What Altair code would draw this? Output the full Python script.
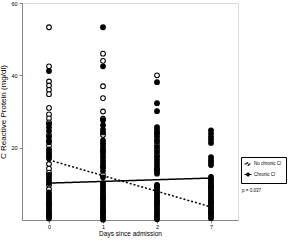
import altair as alt
import pandas as pd

days = ["0", "1", "2", "7"]
groups = ["No chronic CI", "Chronic CI"]

# CRP values (mg/dl)
open_day0 = [53.3, 42.5, 38.3, 37.2, 36.0, 34.8, 31.0, 29.2, 28.1, 27.0, 23.5, 20.5, 15.5, 14.2, 13.1, 9.6, 8.5, 4.5, 1.5]
filled_day0 = [41.2, 26.5, 25.6, 24.6, 23.0, 22.0, 21.5, 19.5, 18.8, 18.2, 17.6, 17.0, 12.5, 11.8, 11.0,
               10.2, 7.6, 7.0, 6.4, 5.8, 5.2, 4.6, 4.0, 3.4, 2.8, 2.2, 1.6, 1.0, 0.4]
open_day1 = [46.0, 44.0, 37.0, 33.7, 30.0, 28.0, 23.5, 19.0, 14.5, 12.5, 6.0, 2.5]
filled_day1 = [53.3, 42.5, 27.6, 26.2, 25.0, 24.2, 22.0, 21.2, 20.4, 19.6, 18.8, 18.0, 17.2, 16.4, 15.6,
               14.8, 13.6, 11.8, 10.2, 9.6, 9.0, 8.4, 7.8, 7.2, 6.6, 6.0, 5.4, 4.8, 4.2, 3.6, 3.0,
               2.4, 1.8, 1.2, 0.6, 0.1]
open_day2 = [40.0, 24.2, 22.5, 21.0, 19.5, 18.0, 14.0, 9.5, 5.0]
filled_day2 = [38.1, 32.3, 30.1, 25.7, 25.0, 24.0, 23.2, 21.8, 20.2, 18.8, 17.4, 16.6, 15.8, 15.0, 14.2,
               13.4, 12.8, 9.7, 9.1, 8.5, 7.9, 7.3, 6.7, 6.1, 5.5, 4.9, 4.3, 3.7, 3.1, 2.5, 1.9,
               1.3, 0.7, 0.2]
open_day7 = [9.0, 5.0, 2.0]
filled_day7 = [24.8, 23.9, 23.0, 22.2, 21.3, 17.4, 16.6, 15.9, 15.2, 11.9, 11.3, 10.7, 10.1, 9.5, 8.9,
               8.3, 7.7, 7.1, 6.5, 5.9, 5.3, 4.7, 4.1, 3.5, 2.9, 2.3, 1.7, 1.1, 0.5]

# regression line end points (day 0 and day 7)
trend_no_ci = [16.6, 3.6]
trend_ci = [10.2, 11.6]
p_text = "p = 0.037"

open_rows, filled_rows = [], []
for d, vals in zip(days, [open_day0, open_day1, open_day2, open_day7]):
    open_rows += [{"day": d, "crp": v, "group": "No chronic CI"} for v in vals]
for d, vals in zip(days, [filled_day0, filled_day1, filled_day2, filled_day7]):
    filled_rows += [{"day": d, "crp": v, "group": "Chronic CI"} for v in vals]
open_df = pd.DataFrame(open_rows)
filled_df = pd.DataFrame(filled_rows)

trend = pd.DataFrame(
    [{"day": d, "crp": v, "group": "No chronic CI"} for d, v in zip(["0", "7"], trend_no_ci)]
    + [{"day": d, "crp": v, "group": "Chronic CI"} for d, v in zip(["0", "7"], trend_ci)]
)

FONT = "Liberation Sans"

xenc = alt.X(
    "day:O",
    scale=alt.Scale(type="point", domain=days, padding=0.5),
    axis=alt.Axis(title="Days since admission", labelAngle=0, labelFontSize=5.5, labelPadding=1,
                  titleFontSize=6.5, titleFontWeight="normal", titlePadding=1, tickSize=3),
)
yenc = alt.Y(
    "crp:Q",
    scale=alt.Scale(domain=[0, 60], nice=False),
    axis=alt.Axis(title="C Reactive Protein (mg/dl)", values=[20, 40, 60], labelFontSize=5.5,
                  titleFontSize=8, titleFontWeight="normal", titlePadding=3, tickSize=3,
                  grid=False),
)

fill_enc = alt.Fill(
    "group:N",
    scale=alt.Scale(domain=groups, range=["white", "black"]),
    legend=alt.Legend(
        title=None, orient="none", legendX=219, legendY=154,
        strokeColor="black", padding=4, labelFontSize=4.5, labelFont=FONT,
        symbolType="M-1.6,0 L1.6,0 M-0.6,0 A0.6,0.6 0 1,1 0.6,0 A0.6,0.6 0 1,1 -0.6,0",
        symbolSize=20, symbolStrokeColor="black", symbolStrokeWidth=1.2,
        rowPadding=2.5, labelOffset=3,
    ),
)

open_pts = alt.Chart(open_df).mark_circle(
    size=22, stroke="black", strokeWidth=1.1, opacity=1, fillOpacity=1
).encode(x=xenc, y=yenc, fill=fill_enc)

filled_pts = alt.Chart(filled_df).mark_circle(
    size=22, stroke="black", strokeWidth=1.1, opacity=1, fillOpacity=1, fill="black"
).encode(x=xenc, y=yenc)

lines = alt.Chart(trend).mark_line(color="black", strokeWidth=1.5).encode(
    x=xenc,
    y=yenc,
    strokeDash=alt.StrokeDash(
        "group:N",
        scale=alt.Scale(domain=groups, range=[[2, 2], [1, 0]]),
        legend=None,
    ),
)

ptxt = alt.Chart(pd.DataFrame({"t": [p_text]})).mark_text(
    align="left", baseline="middle", fontSize=4.5, font=FONT, color="black"
).encode(x=alt.value(220), y=alt.value(188), text="t:N")

chart = (
    alt.layer(open_pts, filled_pts, lines, ptxt)
    .properties(
        width=216, height=217,
        autosize=alt.AutoSizeParams(type="none"),
        padding={"left": 22, "top": 3, "right": 62, "bottom": 20},
    )
    .configure_view(stroke=None)
    .configure_axis(
        labelFont=FONT, titleFont=FONT, labelColor="black", titleColor="black",
        domainColor="black", domainWidth=1.5, tickColor="black", tickWidth=1,
    )
    .configure(background="white")
)

chart.save("out.html", embed_options={"renderer": "svg", "actions": False})
